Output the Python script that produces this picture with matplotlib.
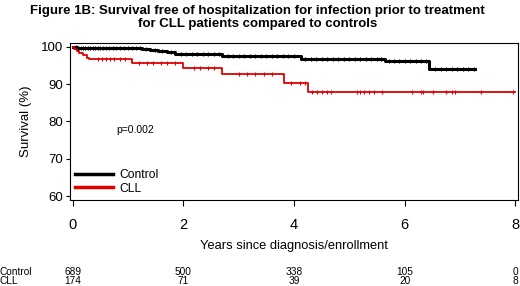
import matplotlib
matplotlib.use("Agg")
import matplotlib.pyplot as plt
from matplotlib.transforms import blended_transform_factory

plt.rcParams['font.family'] = ['Liberation Sans', 'DejaVu Sans']

# Kaplan-Meier step data (years, survival %)
control_t = [0, 0.03, 0.08, 1.25, 1.4, 1.55, 1.7, 1.85, 2.7, 4.13, 5.64, 6.45, 7.28]
control_s = [100, 99.8, 99.6, 99.4, 99.1, 98.8, 98.5, 98.0, 97.6, 96.8, 96.2, 94.1, 94.1]
cll_t = [0, 0.03, 0.07, 0.12, 0.18, 0.25, 0.3, 1.08, 2.0, 2.7, 3.82, 4.25, 8.0]
cll_s = [100, 99.4, 98.9, 98.3, 97.7, 97.1, 96.6, 95.6, 94.3, 92.6, 90.4, 88.0, 88.0]

# censoring marks
control_cens = [0.05, 0.1, 0.14, 0.18, 0.22, 0.27, 0.31, 0.36, 0.4, 0.45, 0.5, 0.55, 0.6,
                0.66, 0.72, 0.78, 0.85, 0.92, 1.0, 1.08, 1.15, 1.22, 1.32, 1.48, 1.62,
                1.78, 1.95, 2.05, 2.15, 2.25, 2.35, 2.45, 2.55, 2.65, 2.8, 2.9, 3.0,
                3.1, 3.2, 3.3, 3.4, 3.5, 3.6, 3.7, 3.8, 3.9, 4.0, 4.2, 4.3, 4.4, 4.5,
                4.6, 4.7, 4.8, 4.9, 5.0, 5.1, 5.2, 5.3, 5.4, 5.5, 5.58, 5.72, 5.8,
                5.9, 6.0, 6.1, 6.2, 6.3, 6.38, 6.55, 6.65, 6.75, 6.85, 6.95, 7.05,
                7.15, 7.25]
cll_cens = [0.45, 0.52, 0.6, 0.68, 0.75, 0.85, 0.95, 1.2, 1.35, 1.45, 1.6, 1.7, 1.85,
            2.2, 2.3, 2.45, 2.55, 3.0, 3.15, 3.3, 3.45, 3.6, 3.95, 4.1, 4.2,
            4.32, 4.41, 4.5, 4.59, 4.67, 5.14, 5.2, 5.26, 5.35, 5.44, 5.59,
            6.13, 6.29, 6.34, 6.52, 6.74, 6.85, 6.92, 7.39, 7.96]

# numbers at risk
risk_years = [0, 2, 4, 6, 8]
risk_control = [689, 500, 338, 105, 0]
risk_cll = [174, 71, 39, 20, 8]


def surv_at(t, times, surv):
    val = surv[0]
    for tt, ss in zip(times, surv):
        if tt <= t:
            val = ss
    return val


fig = plt.figure(figsize=(5.2, 2.86), dpi=100)
ax = fig.add_axes([0.1346, 0.3007, 0.8615, 0.549])

ax.step(control_t, control_s, where='post', color='black', lw=2.2, label='Control')
ax.step(cll_t, cll_s, where='post', color='#e00000', lw=1.3, label='CLL')
ax.plot(control_cens, [surv_at(t, control_t, control_s) for t in control_cens],
        ls='none', marker='|', ms=3.5, mew=0.8, color='black')
ax.plot(cll_cens, [surv_at(t, cll_t, cll_s) for t in cll_cens],
        ls='none', marker='|', ms=3.5, mew=0.8, color='#e00000')

ax.set_xlim(-0.05, 8.05)
ax.set_ylim(59, 101)
ax.set_xticks(risk_years)
ax.set_yticks([60, 70, 80, 90, 100])
ax.tick_params(axis='y', labelsize=9.5, length=3, width=0.8, pad=2)
ax.tick_params(axis='x', labelsize=10.5, length=4, width=0.8, pad=9)
for s in ax.spines.values():
    s.set_linewidth(0.8)

ax.set_ylabel('Survival (%)', fontsize=9.5, labelpad=6)
ax.set_xlabel('Years since diagnosis/enrollment', fontsize=9.3, labelpad=6)
ax.text(0.79, 77.7, 'p=0.002', fontsize=7.5, va='center')

leg = ax.legend(loc='lower left', frameon=False, fontsize=8.7, handlelength=3.1,
                borderaxespad=0.15, labelspacing=0.15, handletextpad=0.5,
                borderpad=0.3)
for line in leg.get_lines():
    line.set_linewidth(2.5)

fig.text(0.495, 1 - 5 / 286, 'Figure 1B: Survival free of hospitalization for infection prior to treatment\n'
         'for CLL patients compared to controls', ha='center', va='top',
         fontsize=9.5, fontweight='bold', linespacing=1.1)

tr = blended_transform_factory(ax.transData, fig.transFigure)
fig.text(0.0, 1 - 272 / 286, 'Control', fontsize=7.3, va='center')
fig.text(0.0, 1 - 280.5 / 286, 'CLL', fontsize=7.3, va='center')
for x, a, b in zip(risk_years, risk_control, risk_cll):
    ax.text(x, 1 - 272 / 286, str(a), transform=tr, fontsize=7.3, ha='center', va='center')
    ax.text(x, 1 - 280.5 / 286, str(b), transform=tr, fontsize=7.3, ha='center', va='center')

fig.savefig('out.png', dpi=100)
